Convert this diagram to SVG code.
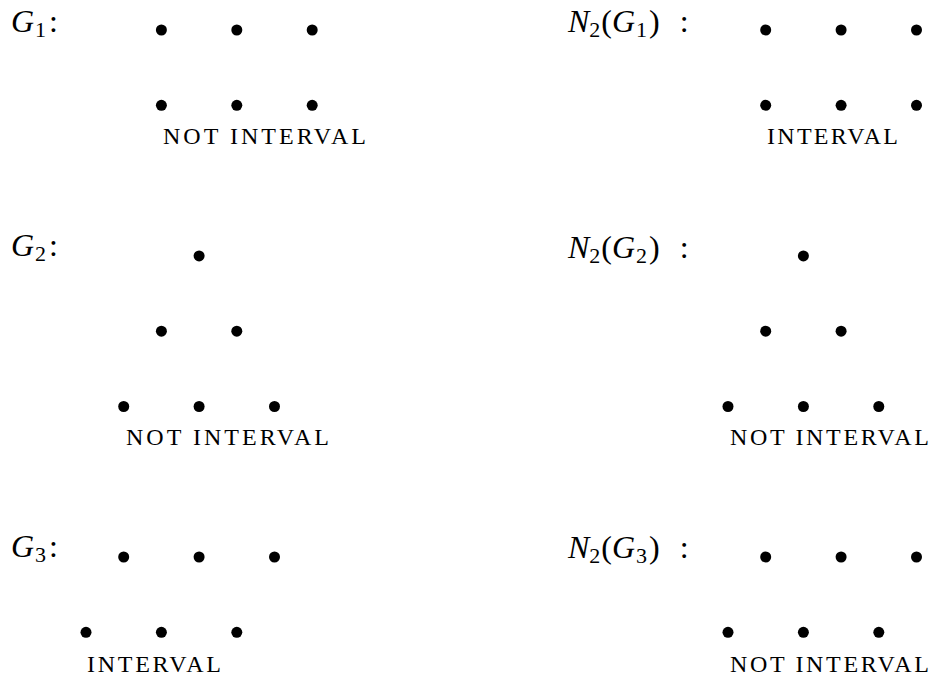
<svg xmlns="http://www.w3.org/2000/svg" width="936" height="682" viewBox="0 0 936 682">
<style>
.d{fill:#000}
.m{font-family:"Liberation Serif","Times New Roman",serif;font-size:32px;font-style:italic;fill:#000}
.s{font-style:normal;font-size:22px}
.r{font-style:normal}
.t{font-family:"Liberation Serif","Times New Roman",serif;font-size:24px;fill:#000}
</style>
<rect width="936" height="682" fill="#fff"/>
<g id="connectors"/>
<g id="G1">
<text class="m" x="11" y="32">G<tspan class="s" dy="5" dx="1">1</tspan><tspan class="r" dy="-5" dx="3">:</tspan></text>
<circle class="d" cx="161.4" cy="30" r="5.5"/><circle class="d" cx="236.8" cy="30" r="5.5"/><circle class="d" cx="312.2" cy="30" r="5.5"/>
<circle class="d" cx="161.4" cy="105.3" r="5.5"/><circle class="d" cx="236.8" cy="105.3" r="5.5"/><circle class="d" cx="312.2" cy="105.3" r="5.5"/>
<text class="t" x="163" y="144" textLength="203" lengthAdjust="spacing">NOT INTERVAL</text>
</g>
<g id="N2G1">
<text class="m" x="568" y="32">N<tspan class="s" dy="5">2</tspan><tspan class="r" dy="-5" dx="1">(</tspan>G<tspan class="s" dy="5" dx="1">1</tspan><tspan class="r" dy="-5" dx="2">)</tspan><tspan class="r" dx="20">:</tspan></text>
<circle class="d" cx="765.7" cy="30" r="5.5"/><circle class="d" cx="841.1" cy="30" r="5.5"/><circle class="d" cx="916.5" cy="30" r="5.5"/>
<circle class="d" cx="765.7" cy="105.3" r="5.5"/><circle class="d" cx="841.1" cy="105.3" r="5.5"/><circle class="d" cx="916.5" cy="105.3" r="5.5"/>
<text class="t" x="767" y="144" textLength="131" lengthAdjust="spacing">INTERVAL</text>
</g>
<g id="G2">
<text class="m" x="11" y="256">G<tspan class="s" dy="5" dx="1">2</tspan><tspan class="r" dy="-5" dx="3">:</tspan></text>
<circle class="d" cx="199.1" cy="255.9" r="5.5"/>
<circle class="d" cx="161.4" cy="331.2" r="5.5"/><circle class="d" cx="236.8" cy="331.2" r="5.5"/>
<circle class="d" cx="123.7" cy="406.5" r="5.5"/><circle class="d" cx="199.1" cy="406.5" r="5.5"/><circle class="d" cx="274.5" cy="406.5" r="5.5"/>
<text class="t" x="126" y="445" textLength="203" lengthAdjust="spacing">NOT INTERVAL</text>
</g>
<g id="N2G2">
<text class="m" x="568" y="258">N<tspan class="s" dy="5">2</tspan><tspan class="r" dy="-5" dx="1">(</tspan>G<tspan class="s" dy="5" dx="1">2</tspan><tspan class="r" dy="-5" dx="2">)</tspan><tspan class="r" dx="20">:</tspan></text>
<circle class="d" cx="803.4" cy="255.9" r="5.5"/>
<circle class="d" cx="765.7" cy="331.2" r="5.5"/><circle class="d" cx="841.1" cy="331.2" r="5.5"/>
<circle class="d" cx="728" cy="406.5" r="5.5"/><circle class="d" cx="803.4" cy="406.5" r="5.5"/><circle class="d" cx="878.8" cy="406.5" r="5.5"/>
<text class="t" x="730" y="445" textLength="199" lengthAdjust="spacing">NOT INTERVAL</text>
</g>
<g id="G3">
<text class="m" x="11" y="557">G<tspan class="s" dy="5" dx="1">3</tspan><tspan class="r" dy="-5" dx="3">:</tspan></text>
<circle class="d" cx="123.7" cy="557" r="5.5"/><circle class="d" cx="199.1" cy="557" r="5.5"/><circle class="d" cx="274.5" cy="557" r="5.5"/>
<circle class="d" cx="86" cy="632.3" r="5.5"/><circle class="d" cx="161.4" cy="632.3" r="5.5"/><circle class="d" cx="236.8" cy="632.3" r="5.5"/>
<text class="t" x="87" y="672" textLength="134" lengthAdjust="spacing">INTERVAL</text>
</g>
<g id="N2G3">
<text class="m" x="568" y="558">N<tspan class="s" dy="5">2</tspan><tspan class="r" dy="-5" dx="1">(</tspan>G<tspan class="s" dy="5" dx="1">3</tspan><tspan class="r" dy="-5" dx="2">)</tspan><tspan class="r" dx="20">:</tspan></text>
<circle class="d" cx="765.7" cy="557" r="5.5"/><circle class="d" cx="841.1" cy="557" r="5.5"/><circle class="d" cx="916.5" cy="557" r="5.5"/>
<circle class="d" cx="728" cy="632.3" r="5.5"/><circle class="d" cx="803.4" cy="632.3" r="5.5"/><circle class="d" cx="878.8" cy="632.3" r="5.5"/>
<text class="t" x="730" y="672" textLength="199" lengthAdjust="spacing">NOT INTERVAL</text>
</g>
</svg>
